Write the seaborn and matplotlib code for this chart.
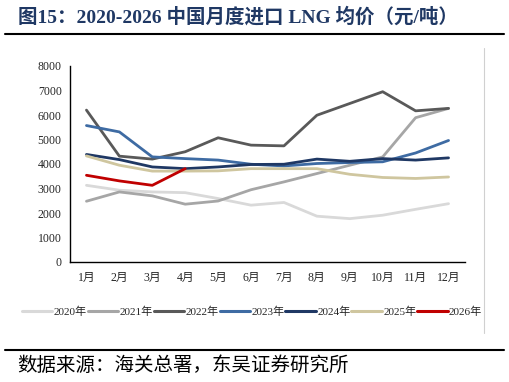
import numpy as np
import matplotlib
matplotlib.use('agg')
import matplotlib.pyplot as plt
import pandas as pd
import seaborn as sns
from matplotlib.lines import Line2D

months = ["1月", "2月", "3月", "4月", "5月", "6月", "7月", "8月", "9月", "10月", "11月", "12月"]

p2020 = [3130, 2930, 2860, 2830, 2590, 2320, 2430, 1870, 1770, 1910, 2150, 2380]
p2021 = [2480, 2860, 2700, 2360, 2490, 2950, 3270, 3610, 3950, 4290, 5890, 6270]
p2022 = [6200, 4320, 4200, 4500, 5070, 4770, 4740, 5990, 6470, 6950, 6170, 6270]
p2023 = [5570, 5310, 4290, 4220, 4160, 3990, 3920, 4020, 4060, 4090, 4450, 4960]
p2024 = [4390, 4180, 3880, 3810, 3880, 3980, 3990, 4200, 4110, 4220, 4160, 4250]
p2025 = [4330, 3950, 3710, 3710, 3720, 3810, 3810, 3810, 3580, 3450, 3410, 3470]
p2026 = [3540, 3310, 3130, 3810]

years = ["2020年", "2021年", "2022年", "2023年", "2024年", "2025年", "2026年"]
colors = ["#D9D9D9", "#A6A6A6", "#595959", "#3E6BA3", "#1F3864", "#CFC69F", "#C00000"]

rows = []
for y, vals in zip(years, [p2020, p2021, p2022, p2023, p2024, p2025, p2026]):
    for i, v in enumerate(vals):
        rows.append({"year": y, "idx": i, "price": v})
df = pd.DataFrame(rows)

sns.set_style("white")
plt.rcParams['font.family'] = ['Liberation Serif', 'Noto Sans CJK SC']

fig = plt.figure(figsize=(5.09, 3.82), dpi=100)
ax = fig.add_axes([70 / 509, 1 - 262 / 382, 395 / 509, 196 / 382])

sns.lineplot(data=df, x="idx", y="price", hue="year", hue_order=years,
             palette=colors, linewidth=2.0, ax=ax, legend=False)

ax.set_xlim(-0.5, 11.5)
ax.set_ylim(0, 8000)
ax.set_yticks(np.arange(0, 8001, 1000))
ax.set_xticks(np.arange(-0.5, 11.6, 1))
ax.set_xticklabels([])
ax.set_xticks(np.arange(12), minor=True)
ax.set_xticklabels(months, minor=True)
ax.tick_params(axis='x', which='major', direction='in', length=4, width=1, color='black')
ax.tick_params(axis='x', which='minor', length=0, pad=7, labelsize=8.5)
ax.tick_params(axis='y', direction='out', length=3, width=1, color='black', labelsize=8.5, pad=3)
ax.set_xlabel("")
ax.set_ylabel("")
for s in ["top", "right"]:
    ax.spines[s].set_visible(False)
for s in ["left", "bottom"]:
    ax.spines[s].set_color("black")
    ax.spines[s].set_linewidth(1.0)

handles = [Line2D([0], [0], color=c, lw=2.2) for c in colors]
fig.legend(handles, years, ncol=7, loc='center', bbox_to_anchor=(252 / 509, 1 - 312 / 382),
           frameon=False, fontsize=8, handlelength=2.75, handletextpad=0.1, columnspacing=0.1)

fig.text(18 / 509, 1 - 17 / 382, "图15：2020-2026 中国月度进口 LNG 均价（元/吨）",
         fontsize=14, fontweight='bold', color="#1F3864", va='center', ha='left')
fig.add_artist(Line2D([5 / 509, 504 / 509], [1 - 34 / 382, 1 - 34 / 382], color='black', lw=1.5))
fig.add_artist(Line2D([5 / 509, 504 / 509], [1 - 350 / 382, 1 - 350 / 382], color='black', lw=1.5))
fig.add_artist(Line2D([484 / 509, 484 / 509], [1 - 48 / 382, 1 - 333 / 382], color='#D0D0D0', lw=0.8))
fig.text(17 / 509, 1 - 366 / 382, "数据来源：海关总署，东吴证券研究所",
         fontsize=14, color='black', va='center', ha='left')

fig.savefig("out.png", dpi=100)
